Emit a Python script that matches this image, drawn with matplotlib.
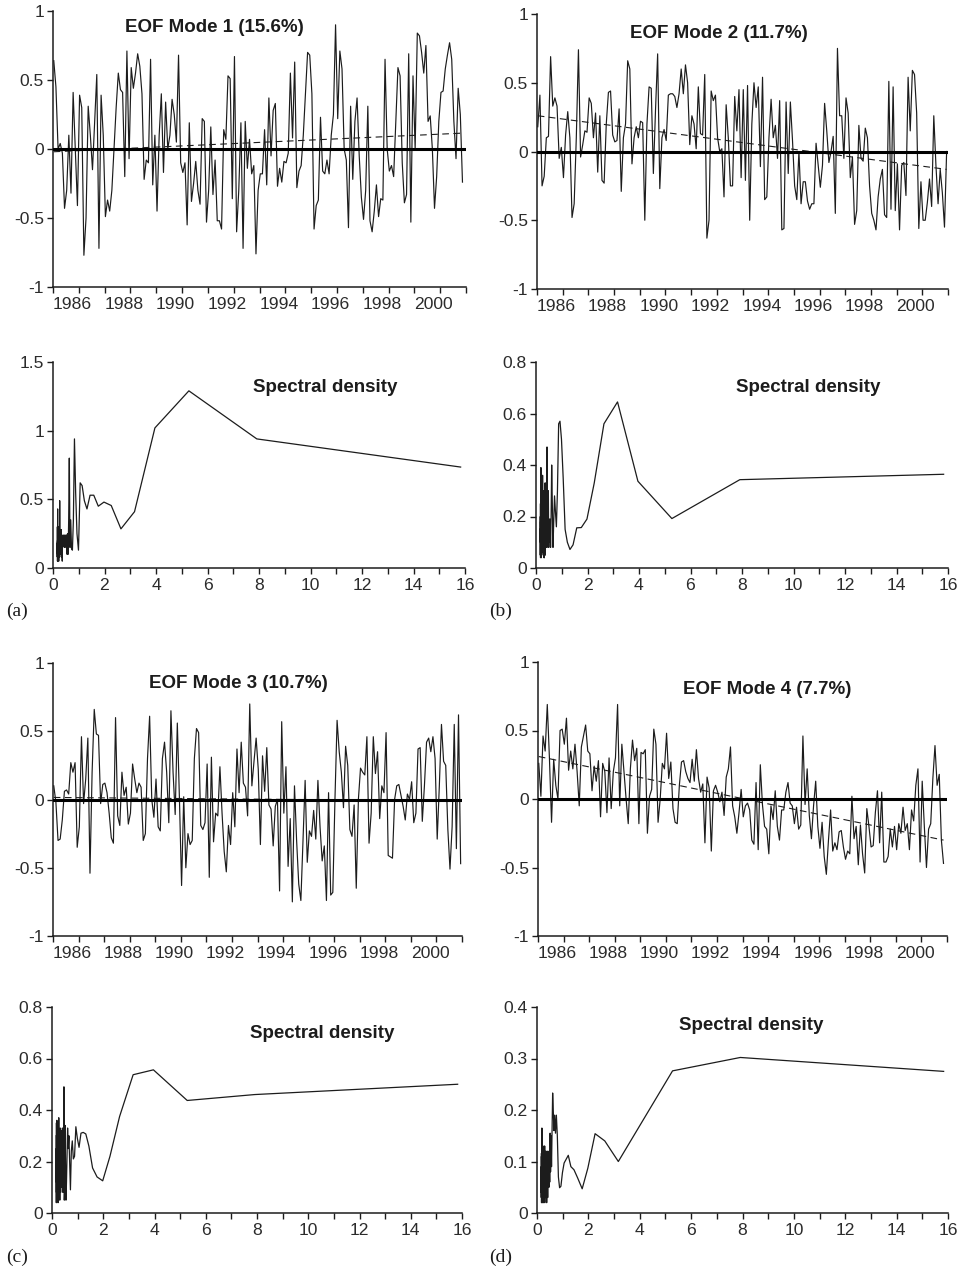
import numpy as np
import matplotlib
matplotlib.use("Agg")
import matplotlib.pyplot as plt
from matplotlib.ticker import FixedLocator, MultipleLocator

# ---------------------------------------------------------------- data
# Monthly principal-component time series (first month of record, step 1/12 yr)
start_year = 1985.28

mode1 = [0.64, 0.45, 0.0, 0.04, -0.03, -0.43, -0.30, 0.10, -0.32, 0.41,
         0.0, -0.41, 0.39, 0.30, -0.77, -0.50, 0.31, 0.10, -0.15, 0.20, 0.54,
         -0.72, 0.39, 0.10, -0.49, -0.37, -0.45, -0.30, 0.0, 0.30, 0.55, 0.43,
         0.41, -0.20, 0.71, -0.07, 0.59, 0.44, 0.55, 0.69, 0.60, 0.40,
         -0.22, -0.08, -0.10, 0.65, -0.26, 0.10, -0.45, 0.10, 0.40, -0.17,
         0.34, 0.0, 0.10, 0.36, 0.25, 0.05, 0.68, -0.10, -0.17, -0.10,
         -0.55, 0.19, -0.38, -0.25, -0.09, -0.30, -0.40, 0.22, 0.20, -0.53,
         -0.30, 0.16, -0.33, -0.08, -0.52, -0.52, -0.58, 0.14, 0.07, 0.53,
         0.51, -0.36, 0.67, -0.60, -0.30, 0.19, -0.72, 0.20, -0.14, 0.07,
         -0.18, -0.12, -0.76, -0.30, -0.18, -0.18, 0.14, -0.26, 0.37, -0.05,
         0.28, 0.33, -0.27, -0.14, -0.24, -0.09, -0.10, -0.03, 0.55, 0.08,
         0.63, -0.28, -0.16, -0.12, 0.10, 0.40, 0.70, 0.68, 0.40, -0.58,
         -0.41, -0.37, 0.23, -0.16, -0.18, -0.08, -0.18, 0.10, 0.25, 0.90,
         0.22, 0.71, 0.58, 0.0, -0.08, -0.57, 0.31, -0.22, 0.20, 0.37,
         -0.05, -0.35, -0.51, -0.30, 0.31, -0.52, -0.60, -0.45, -0.26, -0.49,
         -0.36, -0.37, 0.65, 0.0, -0.16, -0.12, -0.20, 0.20, 0.59, 0.53,
         -0.10, -0.39, -0.33, 0.69, -0.53, 0.53, 0.0, 0.84, 0.82, 0.70,
         0.55, 0.75, 0.20, 0.24, 0.0, -0.43, -0.20, 0.20, 0.41, 0.42,
         0.58, 0.68, 0.77, 0.65, 0.20, -0.07, 0.44, 0.25, -0.24]

mode2 = [0.18, 0.41, -0.25, -0.18, 0.10, 0.11, 0.69, 0.33, 0.39, 0.33,
         -0.05, 0.03, -0.19, 0.12, 0.29, 0.10, -0.48, -0.38, 0.10, 0.74,
         -0.04, 0.05, 0.15, 0.14, 0.39, 0.35, 0.10, 0.28, -0.15, 0.26,
         -0.21, -0.23, 0.20, 0.43, 0.44, 0.12, 0.07, 0.08, 0.31, -0.29,
         0.10, 0.20, 0.66, 0.60, -0.09, 0.10, 0.18, 0.10, 0.22, 0.21,
         -0.50, 0.20, 0.47, 0.46, -0.16, 0.30, 0.71, -0.27, 0.10, 0.16,
         0.08, 0.41, 0.42, 0.42, 0.40, 0.32, 0.42, 0.60, 0.42, 0.63,
         0.50, 0.05, 0.26, 0.20, 0.02, 0.47, 0.13, 0.12, 0.56, -0.63,
         -0.50, 0.44, 0.37, 0.41, 0.10, 0.0, 0.02, -0.33, 0.34, 0.10,
         -0.25, -0.25, 0.40, 0.15, 0.45, -0.19, 0.45, -0.21, 0.48, -0.50,
         0.20, 0.50, 0.32, 0.47, -0.11, 0.54, -0.35, -0.33, 0.10, 0.38,
         0.10, 0.19, -0.05, 0.37, -0.57, -0.56, 0.36, -0.16, 0.36, 0.08,
         -0.25, -0.35, 0.0, -0.38, -0.22, -0.22, -0.36, -0.42, -0.38, -0.38,
         0.06, -0.10, -0.26, -0.10, 0.35, 0.15, -0.08, 0.0, 0.11, -0.45,
         0.75, 0.26, 0.26, -0.05, 0.39, 0.28, -0.19, -0.04, -0.53, -0.43,
         0.19, -0.05, -0.07, 0.17, 0.10, -0.25, -0.45, -0.50, -0.57, -0.33,
         -0.20, -0.13, -0.46, -0.48, 0.51, -0.42, 0.47, -0.43, -0.09, -0.57,
         -0.10, -0.08, -0.32, 0.54, 0.15, 0.59, 0.56, 0.28, -0.56, -0.22,
         -0.50, -0.50, -0.37, -0.20, -0.40, 0.26, -0.10, -0.38, -0.13, -0.30,
         -0.55, 0.0]

mode3 = [0.10, -0.02, -0.30, -0.29, -0.15, 0.06, 0.07, 0.04, 0.27, 0.20,
         0.27, -0.35, -0.20, 0.46, -0.03, 0.15, 0.45, -0.54, 0.20, 0.66,
         0.48, 0.47, -0.03, 0.11, 0.12, 0.05, -0.10, -0.28, -0.32, 0.60,
         -0.12, -0.19, 0.20, 0.03, 0.09, -0.18, -0.10, 0.26, 0.15, 0.05,
         0.12, 0.09, -0.30, -0.25, 0.30, 0.61, 0.0, -0.13, 0.15, -0.20,
         -0.23, 0.30, 0.42, 0.20, -0.17, 0.65, 0.20, -0.11, 0.56, 0.0,
         -0.63, 0.02, -0.50, -0.25, -0.33, -0.30, 0.30, 0.52, 0.49, -0.19,
         -0.22, -0.17, 0.26, -0.57, 0.31, -0.31, -0.10, -0.12, 0.24, -0.10,
         -0.38, -0.53, -0.19, -0.33, 0.05, -0.20, 0.37, 0.05, 0.42, 0.12,
         0.09, -0.12, 0.70, 0.10, 0.28, 0.45, 0.22, -0.33, 0.32, 0.06,
         0.38, -0.04, -0.07, -0.34, -0.05, 0.0, -0.67, 0.57, -0.10, 0.24,
         -0.49, -0.14, -0.75, 0.10, -0.30, -0.62, -0.74, -0.30, 0.14, -0.46,
         -0.23, -0.27, -0.08, -0.29, 0.14, -0.20, -0.45, -0.34, -0.74, 0.05,
         -0.70, -0.68, 0.0, 0.58, 0.35, 0.20, -0.06, 0.39, 0.25, -0.22,
         -0.27, -0.04, -0.65, 0.0, 0.23, 0.20, 0.18, 0.46, -0.32, -0.10,
         0.46, 0.19, 0.35, -0.14, 0.10, 0.05, 0.49, -0.41, -0.42, -0.43,
         0.0, 0.10, 0.11, 0.03, -0.05, -0.15, 0.04, 0.0, 0.13, -0.17,
         -0.10, 0.37, 0.38, -0.16, 0.10, 0.42, 0.45, 0.35, 0.46, 0.30,
         -0.29, 0.10, 0.55, 0.28, 0.25, -0.22, -0.51, -0.20, 0.55, -0.36,
         0.62, -0.47]

mode4 = [0.26, 0.02, 0.46, 0.35, 0.69, 0.30, -0.17, 0.29, 0.10, 0.0,
         0.50, 0.51, 0.40, 0.59, 0.21, 0.35, 0.22, 0.40, 0.20, -0.05,
         0.38, 0.46, 0.54, 0.35, 0.33, 0.06, 0.24, 0.13, 0.28, -0.13,
         0.26, 0.20, -0.10, 0.30, -0.07, 0.20, 0.30, 0.69, -0.05, 0.40,
         0.20, 0.0, -0.18, 0.22, 0.43, 0.28, 0.37, -0.18, 0.34, 0.33,
         0.36, -0.25, 0.02, 0.07, 0.51, 0.40, -0.17, 0.0, 0.26, 0.22,
         0.48, 0.15, 0.27, -0.07, -0.17, -0.18, 0.10, 0.27, 0.28, 0.20,
         0.15, 0.12, 0.29, 0.13, 0.36, 0.15, 0.05, 0.11, -0.32, 0.16,
         0.08, -0.38, 0.06, 0.10, 0.05, -0.02, 0.05, -0.12, 0.16, 0.22,
         0.38, -0.05, -0.13, -0.25, -0.10, 0.07, -0.13, -0.05, -0.03, -0.08,
         -0.30, -0.33, 0.12, -0.37, 0.25, -0.04, -0.20, -0.22, -0.40, -0.05,
         -0.15, 0.06, -0.20, -0.30, -0.08, -0.08, 0.05, 0.12, -0.03, -0.05,
         -0.18, -0.06, -0.22, -0.19, 0.46, -0.04, 0.22, -0.12, -0.29, -0.05,
         0.13, -0.20, -0.36, -0.17, -0.42, -0.55, -0.30, -0.08, -0.38, -0.32,
         -0.37, -0.24, -0.23, -0.35, -0.44, -0.38, -0.40, 0.02, -0.29, -0.20,
         -0.48, -0.19, -0.40, -0.54, -0.07, -0.20, -0.35, -0.34, -0.10, 0.06,
         -0.32, 0.05, -0.46, -0.46, -0.42, -0.22, -0.35, -0.20, -0.37, -0.18,
         -0.25, -0.06, -0.23, -0.18, -0.37, -0.08, -0.16, 0.10, 0.22, -0.46,
         0.13, -0.20, -0.50, -0.22, -0.18, 0.15, 0.39, 0.10, 0.18, -0.30,
         -0.47]

# Linear trend of each mode: value at first and last month
trend_ends = {1: (-0.02, 0.115), 2: (0.26, -0.13), 3: (0.015, -0.01), 4: (0.31, -0.30)}

mode_titles = ["EOF Mode 1 (15.6%)", "EOF Mode 2 (11.7%)",
               "EOF Mode 3 (10.7%)", "EOF Mode 4 (7.7%)"]

# Spectral density estimates at harmonics k = 1..95 of the record
record_years = 15.83
spec1 = [0.735, 0.94, 1.29, 1.02, 0.41, 0.285, 0.455, 0.48, 0.45, 0.53,
         0.53, 0.43, 0.49, 0.60, 0.62, 0.13, 0.25, 0.55, 0.94, 0.35,
         0.13, 0.14, 0.35, 0.15, 0.80, 0.35, 0.10, 0.25, 0.10, 0.24,
         0.15, 0.24, 0.16, 0.20, 0.15, 0.24, 0.18, 0.22, 0.16, 0.24,
         0.18, 0.15, 0.22, 0.05, 0.12, 0.24, 0.16, 0.20, 0.08, 0.28,
         0.10, 0.22, 0.15, 0.28, 0.12, 0.28, 0.14, 0.22, 0.20, 0.30,
         0.49, 0.10, 0.20, 0.27, 0.08, 0.25, 0.18, 0.29, 0.12, 0.25,
         0.05, 0.20, 0.25, 0.15, 0.28, 0.08, 0.20, 0.30, 0.10, 0.22,
         0.06, 0.25, 0.12, 0.20, 0.05, 0.25, 0.15, 0.43, 0.10, 0.20,
         0.05, 0.15, 0.30, 0.08, 0.18]
spec2 = [0.364, 0.343, 0.192, 0.337, 0.645, 0.56, 0.33, 0.19, 0.157, 0.156,
         0.09, 0.072, 0.10, 0.15, 0.35, 0.50, 0.57, 0.56, 0.30, 0.16,
         0.22, 0.28, 0.18, 0.08, 0.25, 0.40, 0.20, 0.08, 0.19, 0.10,
         0.19, 0.08, 0.30, 0.08, 0.25, 0.12, 0.47, 0.10, 0.20, 0.08,
         0.18, 0.09, 0.33, 0.05, 0.20, 0.33, 0.10, 0.20, 0.04, 0.18,
         0.04, 0.15, 0.25, 0.08, 0.30, 0.12, 0.20, 0.06, 0.25, 0.10,
         0.20, 0.36, 0.12, 0.20, 0.06, 0.25, 0.10, 0.30, 0.08, 0.18,
         0.05, 0.22, 0.30, 0.10, 0.20, 0.04, 0.25, 0.12, 0.20, 0.06,
         0.30, 0.15, 0.39, 0.08, 0.20, 0.05, 0.30, 0.10, 0.18, 0.04,
         0.25, 0.10, 0.20, 0.05, 0.15]
spec3 = [0.50, 0.46, 0.437, 0.556, 0.537, 0.375, 0.22, 0.125, 0.14, 0.175,
         0.26, 0.307, 0.313, 0.31, 0.255, 0.29, 0.335, 0.22, 0.21, 0.28,
         0.24, 0.09, 0.20, 0.30, 0.25, 0.33, 0.22, 0.12, 0.05, 0.20,
         0.34, 0.10, 0.05, 0.49, 0.20, 0.30, 0.08, 0.25, 0.33, 0.12,
         0.20, 0.32, 0.10, 0.25, 0.15, 0.30, 0.08, 0.22, 0.33, 0.12,
         0.20, 0.05, 0.30, 0.15, 0.25, 0.10, 0.32, 0.20, 0.08, 0.37,
         0.15, 0.25, 0.05, 0.30, 0.12, 0.22, 0.04, 0.35, 0.10, 0.25,
         0.15, 0.30, 0.08, 0.20, 0.35, 0.10, 0.25, 0.05, 0.30, 0.15,
         0.22, 0.08, 0.36, 0.12, 0.25, 0.05, 0.30, 0.15, 0.20, 0.08,
         0.35, 0.12, 0.25, 0.04, 0.30]
spec4 = [0.275, 0.302, 0.276, 0.166, 0.10, 0.14, 0.154, 0.087, 0.047, 0.068,
         0.084, 0.09, 0.112, 0.104, 0.097, 0.078, 0.052, 0.049, 0.07, 0.15,
         0.19, 0.155, 0.19, 0.16, 0.20, 0.233, 0.16, 0.09, 0.15, 0.08,
         0.155, 0.06, 0.12, 0.05, 0.10, 0.06, 0.12, 0.03, 0.09, 0.05,
         0.12, 0.02, 0.10, 0.06, 0.08, 0.03, 0.12, 0.04, 0.10, 0.05,
         0.08, 0.02, 0.13, 0.05, 0.09, 0.03, 0.11, 0.06, 0.13, 0.03,
         0.08, 0.05, 0.10, 0.02, 0.12, 0.04, 0.08, 0.03, 0.11, 0.05,
         0.09, 0.03, 0.13, 0.05, 0.08, 0.02, 0.10, 0.04, 0.12, 0.03,
         0.09, 0.05, 0.165, 0.04, 0.10, 0.03, 0.12, 0.05, 0.08, 0.02,
         0.11, 0.04, 0.09, 0.03, 0.115]

spec_yticks = [[0, 0.5, 1, 1.5], [0, 0.2, 0.4, 0.6, 0.8],
               [0, 0.2, 0.4, 0.6, 0.8], [0, 0.1, 0.2, 0.3, 0.4]]
spec_ylabels = [["0", "0.5", "1", "1.5"], ["0", "0.2", "0.4", "0.6", "0.8"],
                ["0", "0.2", "0.4", "0.6", "0.8"], ["0", "0.1", "0.2", "0.3", "0.4"]]
panel_tags = ["(a)", "(b)", "(c)", "(d)"]
year_labels = [1986, 1988, 1990, 1992, 1994, 1996, 1998, 2000]

# ---------------------------------------------------------------- layout
W, H = 969, 1269
fig = plt.figure(figsize=(W / 100, H / 100), dpi=100)
fig.patch.set_facecolor("white")

SANS = ["Liberation Sans", "DejaVu Sans"]
SERIF = ["Liberation Serif", "DejaVu Serif"]
INK = "#1c1c1c"
LABEL_INK = "#2b2b2b"


def box(l, t, r, b):
    return [l / W, 1 - b / H, (r - l) / W, (b - t) / H]


def ftext(x, y, s, **kw):
    fig.text(x / W, 1 - y / H, s, **kw)


ts_boxes = [(53, 11, 466, 287), (537, 14, 948, 289),
            (53, 663, 462, 936), (538, 662, 947, 936)]
sp_boxes = [(53, 362, 465, 568), (536, 362, 948, 568),
            (52, 1007, 462, 1213), (537, 1007, 948, 1213)]
title_pos = [(214, 27), (719, 33), (238, 683), (767, 690)]
spec_title_pos = [(325, 387), (808, 387), (322, 1033), (751, 1026)]
tag_pos = [(6, 611), (489, 611), (6, 1257), (489, 1257)]


def style_axes(ax):
    for side in ("top", "right"):
        ax.spines[side].set_visible(False)
    for side in ("left", "bottom"):
        ax.spines[side].set_linewidth(1.1)
        ax.spines[side].set_color(INK)
    ax.tick_params(axis="both", which="both", direction="out", length=4.5,
                   width=1.0, color=INK, labelsize=12.6, labelcolor=LABEL_INK)
    ax.tick_params(axis="y", pad=2)
    ax.tick_params(axis="x", pad=3)
    for lab in ax.get_xticklabels() + ax.get_yticklabels():
        lab.set_family(SANS)


modes = [mode1, mode2, mode3, mode4]
specs = [spec1, spec2, spec3, spec4]

for i in range(4):
    # ---- time series panel
    ax = fig.add_axes(box(*ts_boxes[i]))
    vals = np.array(modes[i])
    t = start_year + np.arange(len(vals)) / 12.0
    ax.plot(t, vals, color=INK, lw=0.85, zorder=2)
    a, b = trend_ends[i + 1]
    ax.plot([t[0], t[-1]], [a, b], color=INK, lw=0.8,
            dashes=(6, 4), zorder=3)
    ax.axhline(0, color="black", lw=2.2, zorder=4)
    ax.set_xlim(1985.25, 2001.25)
    ax.set_ylim(-1, 1)
    ax.xaxis.set_major_locator(FixedLocator(np.arange(1985.25, 2001.3, 1.0)))
    ax.set_xticklabels([])
    ax.xaxis.set_minor_locator(FixedLocator(year_labels))
    ax.set_xticklabels([str(y) for y in year_labels], minor=True)
    ax.set_yticks([-1, -0.5, 0, 0.5, 1])
    ax.set_yticklabels(["-1", "-0.5", "0", "0.5", "1"])
    style_axes(ax)
    ax.tick_params(axis="x", which="minor", length=0, pad=7.5)
    for lab in ax.get_xticklabels(minor=True):
        lab.set_family(SANS)
    ax.patch.set_alpha(0)
    x, y = title_pos[i]
    ftext(x, y, mode_titles[i], ha="center", va="center", fontsize=13.5,
          fontweight="bold", family=SANS, color=INK)

    # ---- spectral density panel
    ax2 = fig.add_axes(box(*sp_boxes[i]))
    k = np.arange(1, len(specs[i]) + 1)
    period = record_years / k
    ax2.plot(period, specs[i], color=INK, lw=0.9)
    ax2.set_xlim(0, 16)
    yt = spec_yticks[i]
    ax2.set_ylim(0, yt[-1])
    ax2.xaxis.set_major_locator(MultipleLocator(2))
    ax2.xaxis.set_minor_locator(MultipleLocator(1))
    ax2.set_xticks(np.arange(0, 17, 2))
    ax2.set_xticklabels([str(v) for v in range(0, 17, 2)])
    ax2.set_yticks(yt)
    ax2.set_yticklabels(spec_ylabels[i])
    style_axes(ax2)
    ax2.patch.set_alpha(0)
    x, y = spec_title_pos[i]
    ftext(x, y, "Spectral density", ha="center", va="center", fontsize=13.5,
          fontweight="bold", family=SANS, color=INK)

    x, y = tag_pos[i]
    ftext(x, y, panel_tags[i], ha="left", va="center", fontsize=14,
          family=SERIF, color=INK)

fig.savefig("out.png", dpi=100, facecolor="white")
